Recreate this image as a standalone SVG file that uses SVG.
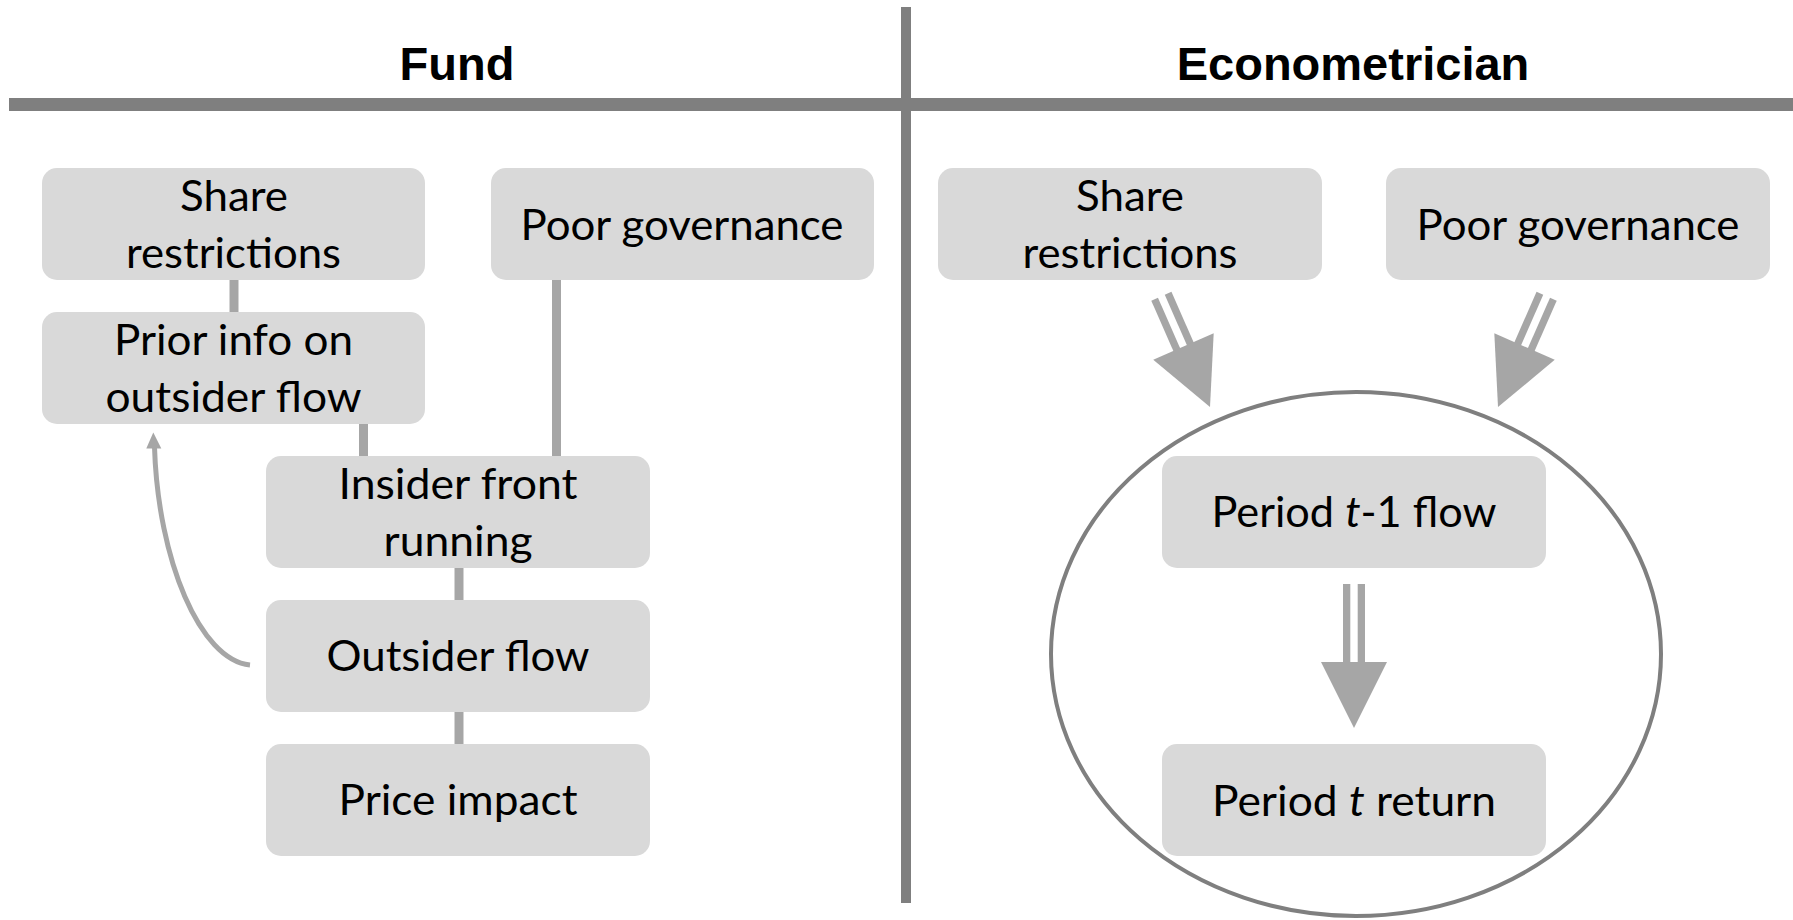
<svg xmlns="http://www.w3.org/2000/svg" width="1793" height="920" viewBox="0 0 1793 920">
  <style>
    .box { fill: #d9d9d9; }
    .lbl { font-family: "Lato", "Open Sans", "Liberation Sans", sans-serif; font-size: 42px; fill: #000; text-anchor: middle; }
    .title { font-family: "Liberation Sans", Arial, sans-serif; font-size: 47px; font-weight: bold; fill: #000; text-anchor: middle; }
    .link { stroke: #a6a6a6; stroke-width: 9; fill: none; }
    .rule { fill: #7f7f7f; }
    .dbl { fill: #a6a6a6; }
  </style>
  <defs>
    <!-- double-shaft arrow pointing down, tip at origin -->
    <g id="dblArrowShort">
      <rect x="-11" y="-121" width="7.3" height="56"/>
      <rect x="3.7" y="-121" width="7.3" height="56"/>
      <polygon points="-33,-66 33,-66 0,0"/>
    </g>
    <g id="dblArrowLong">
      <rect x="-11" y="-144" width="7.3" height="79"/>
      <rect x="3.7" y="-144" width="7.3" height="79"/>
      <polygon points="-33,-66 33,-66 0,0"/>
    </g>
  </defs>

  <rect width="1793" height="920" fill="#ffffff"/>

  <!-- column headers and rules -->
  <g id="headers">
    <rect class="rule" x="9" y="98" width="1784" height="13"/>
    <rect class="rule" x="901" y="7" width="10" height="896"/>
    <text class="title" x="457" y="80">Fund</text>
    <text class="title" x="1353" y="80">Econometrician</text>
  </g>

  <!-- connectors -->
  <g id="connectors">
    <line class="link" x1="234" y1="279" x2="234" y2="313"/>
    <line class="link" x1="363.5" y1="423" x2="363.5" y2="457"/>
    <line class="link" x1="556.5" y1="279" x2="556.5" y2="457"/>
    <line class="link" x1="459" y1="567" x2="459" y2="601"/>
    <line class="link" x1="459" y1="711" x2="459" y2="745"/>
    <path d="M250,665 C200,660 158,560 154.5,447" fill="none" stroke="#a6a6a6" stroke-width="5"/>
    <polygon points="153.3,432.5 146.3,448.5 161.3,448.5" fill="#a6a6a6"/>
    <ellipse cx="1356" cy="654" rx="305" ry="262" fill="none" stroke="#7f7f7f" stroke-width="4"/>
    <use href="#dblArrowShort" class="dbl" transform="translate(1210,407) rotate(-23.7)"/>
    <use href="#dblArrowShort" class="dbl" transform="translate(1498,407) rotate(23.7)"/>
    <use href="#dblArrowLong" class="dbl" transform="translate(1354,728)"/>
  </g>

  <!-- Fund side -->
  <g id="fund-share-restrictions">
    <rect class="box" x="42" y="168" width="383" height="112" rx="15"/>
    <text class="lbl" x="234" y="211" textLength="108" lengthAdjust="spacingAndGlyphs">Share</text>
    <text class="lbl" x="233.5" y="268" textLength="215" lengthAdjust="spacingAndGlyphs">restrictions</text>
  </g>
  <g id="fund-poor-governance">
    <rect class="box" x="491" y="168" width="383" height="112" rx="15"/>
    <text class="lbl" x="682" y="240" textLength="323" lengthAdjust="spacingAndGlyphs">Poor governance</text>
  </g>
  <g id="fund-prior-info">
    <rect class="box" x="42" y="312" width="383" height="112" rx="15"/>
    <text class="lbl" x="233.5" y="355" textLength="239" lengthAdjust="spacingAndGlyphs">Prior info on</text>
    <text class="lbl" x="233.5" y="412" textLength="256" lengthAdjust="spacingAndGlyphs">outsider flow</text>
  </g>
  <g id="fund-insider-front-running">
    <rect class="box" x="266" y="456" width="384" height="112" rx="15"/>
    <text class="lbl" x="458" y="499" textLength="239" lengthAdjust="spacingAndGlyphs">Insider front</text>
    <text class="lbl" x="458" y="556" textLength="149" lengthAdjust="spacingAndGlyphs">running</text>
  </g>
  <g id="fund-outsider-flow">
    <rect class="box" x="266" y="600" width="384" height="112" rx="15"/>
    <text class="lbl" x="458" y="671" textLength="263" lengthAdjust="spacingAndGlyphs">Outsider flow</text>
  </g>
  <g id="fund-price-impact">
    <rect class="box" x="266" y="744" width="384" height="112" rx="15"/>
    <text class="lbl" x="458" y="815" textLength="239" lengthAdjust="spacingAndGlyphs">Price impact</text>
  </g>

  <!-- Econometrician side -->
  <g id="econ-share-restrictions">
    <rect class="box" x="938" y="168" width="384" height="112" rx="15"/>
    <text class="lbl" x="1130" y="211" textLength="108" lengthAdjust="spacingAndGlyphs">Share</text>
    <text class="lbl" x="1130" y="268" textLength="215" lengthAdjust="spacingAndGlyphs">restrictions</text>
  </g>
  <g id="econ-poor-governance">
    <rect class="box" x="1386" y="168" width="384" height="112" rx="15"/>
    <text class="lbl" x="1578" y="240" textLength="323" lengthAdjust="spacingAndGlyphs">Poor governance</text>
  </g>
  <g id="econ-period-t1-flow">
    <rect class="box" x="1162" y="456" width="384" height="112" rx="15"/>
    <text class="lbl" x="1354" y="527" textLength="285" lengthAdjust="spacingAndGlyphs">Period <tspan font-style="italic">t</tspan>-1 flow</text>
  </g>
  <g id="econ-period-t-return">
    <rect class="box" x="1162" y="744" width="384" height="112" rx="15"/>
    <text class="lbl" x="1354" y="816" textLength="284" lengthAdjust="spacingAndGlyphs">Period <tspan font-style="italic">t</tspan> return</text>
  </g>
</svg>
